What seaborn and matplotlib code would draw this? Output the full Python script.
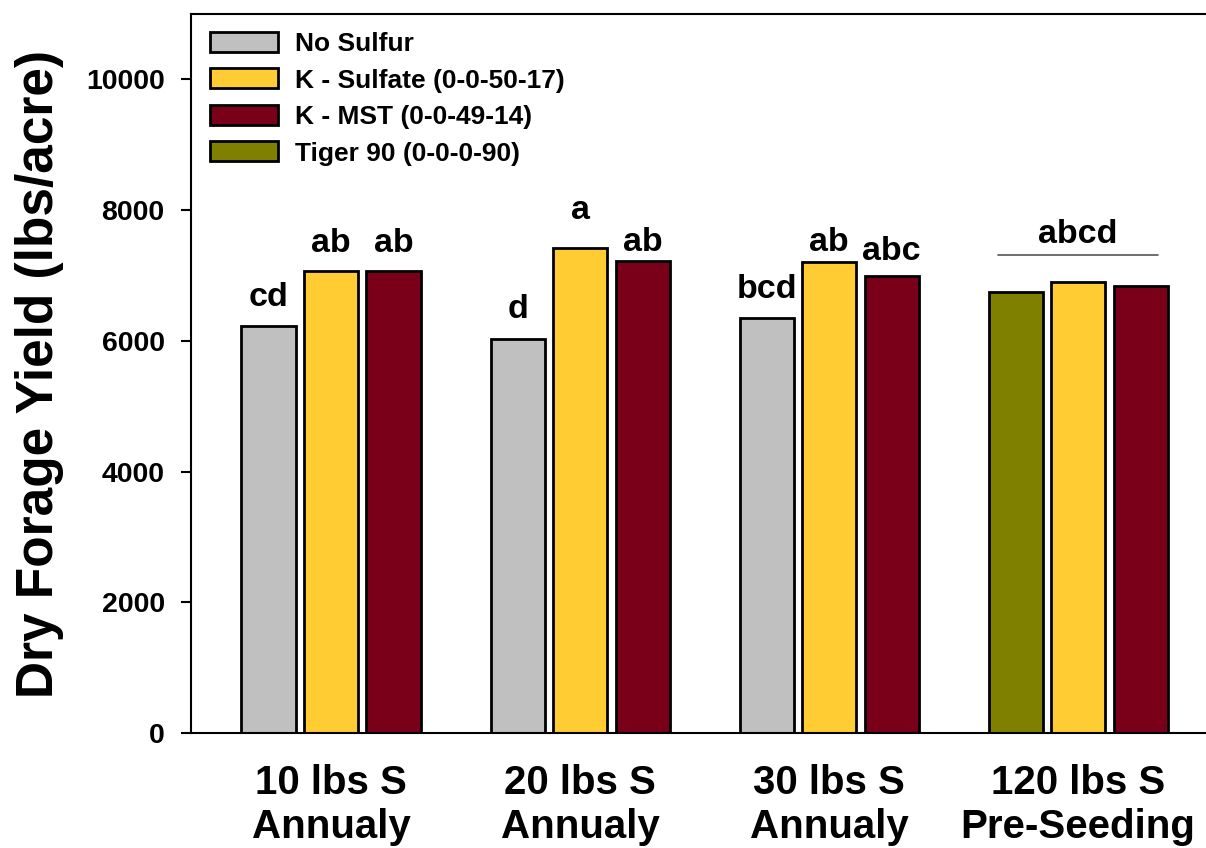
import seaborn as sns
import matplotlib.pyplot as plt
import pandas as pd
from matplotlib.patches import Patch

# ---- data ----
groups = ["10 lbs S\nAnnualy", "20 lbs S\nAnnualy", "30 lbs S\nAnnualy", "120 lbs S\nPre-Seeding"]
treatments = ["No Sulfur", "K - Sulfate (0-0-50-17)", "K - MST (0-0-49-14)", "Tiger 90 (0-0-0-90)"]
treatment_colors = ["#C0C0C0", "#FFCC33", "#7A0019", "#808000"]

# which treatment sits in each of the three bar slots of a group
slot_treatment = [[0, 1, 2], [0, 1, 2], [0, 1, 2], [3, 1, 2]]
yields = [[6220, 7070, 7065],
          [6035, 7425, 7225],
          [6350, 7205, 6990],
          [6745, 6900, 6845]]
letters = [["cd", "ab", "ab"],
           ["d", "a", "ab"],
           ["bcd", "ab", "abc"],
           ["", "", ""]]
group_letters = ["", "", "", "abcd"]

rows = []
for g, name in enumerate(groups):
    for s in range(3):
        rows.append({"group": name, "slot": s, "treatment": treatments[slot_treatment[g][s]],
                     "yield": yields[g][s]})
df = pd.DataFrame(rows)

# ---- style ----
sns.set_style("white")
plt.rcParams["font.family"] = ["Liberation Sans", "DejaVu Sans"]
plt.rcParams["font.weight"] = "bold"
for key in ["text.color", "axes.labelcolor", "xtick.color", "ytick.color"]:
    plt.rcParams[key] = "black"

fig = plt.figure(figsize=(12.06, 8.48), dpi=100)
ax = fig.add_axes([0.1584, 0.1356, 0.8532, 0.8479])

sns.barplot(data=df, x="group", y="yield", hue="slot", order=groups,
            width=0.753, gap=0.135, edgecolor="black", linewidth=2.0,
            palette=["#C0C0C0"] * 3, legend=False, ax=ax)

# recolor each bar by its treatment
label_offsets = [[15, 13.7, 13.7], [15, 21, 7.2], [14.4, 7.6, 11.5], [0, 0, 0]]
for s, cont in enumerate(ax.containers):
    for g, bar in enumerate(cont):
        bar.set_facecolor(treatment_colors[slot_treatment[g][s]])
        txt = letters[g][s]
        if txt:
            ax.annotate(txt, (bar.get_x() + bar.get_width() / 2, bar.get_height()),
                        xytext=(0, label_offsets[g][s]), textcoords="offset points",
                        ha="center", va="baseline", fontsize=24.5, fontweight="bold")

# shared letter over the last group
for g, txt in enumerate(group_letters):
    if txt:
        top = max(yields[g]) + 410
        ax.plot([g - 0.32, g + 0.32], [top, top], color="#555555", lw=1.2)
        ax.annotate(txt, (g, top), xytext=(0, 8.5), textcoords="offset points",
                    ha="center", va="baseline", fontsize=24.5, fontweight="bold")

ax.set_xlim(-0.5622, 3.570)
ax.set_ylim(0, 11000)
ax.set_yticks(range(0, 10001, 2000))
ax.set_xlabel("")
ax.set_ylabel("Dry Forage Yield (lbs/acre)", fontsize=37, fontweight="bold", labelpad=16)
ax.tick_params(axis="y", left=True, direction="out", length=7, width=1.5, pad=12, labelsize=20.5)
ax.tick_params(axis="x", bottom=False, length=0, pad=22, labelsize=29)
for lab in ax.get_xticklabels() + ax.get_yticklabels():
    lab.set_fontweight("bold")
for side in ["left", "bottom", "top"]:
    ax.spines[side].set_linewidth(1.5)
    ax.spines[side].set_color("black")
ax.spines["right"].set_visible(False)

handles = [Patch(facecolor=c, edgecolor="black", linewidth=2.0) for c in treatment_colors]
ax.legend(handles, treatments, loc="upper left", bbox_to_anchor=(0.018, 0.975),
          frameon=False, handlelength=2.6, handleheight=0.78,
          handletextpad=0.62, labelspacing=0.47, borderpad=0, borderaxespad=0,
          prop={"weight": "bold", "size": 19})

fig.savefig("out.png", dpi=100)
